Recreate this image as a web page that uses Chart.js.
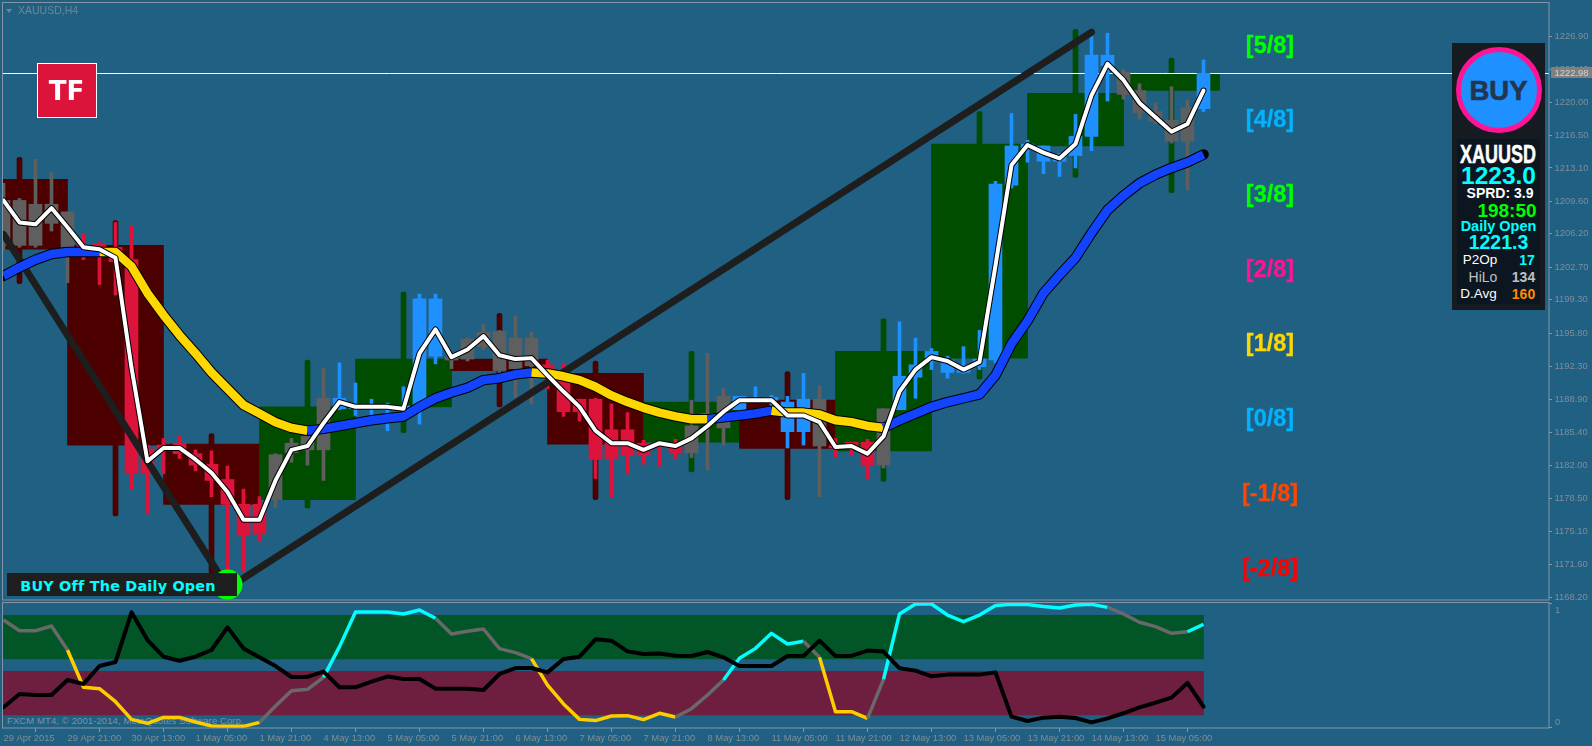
<!DOCTYPE html>
<html>
<head>
<meta charset="utf-8">
<title>XAUUSD,H4</title>
<script src="https://cdn.jsdelivr.net/npm/chart.js@4"></script>
<style>
html,body{margin:0;padding:0;overflow:hidden;width:1592px;height:746px;background:#206082;font-family:"Liberation Sans",Arial,sans-serif}
canvas{position:absolute;left:0}
#main{top:0;z-index:2}
#osc{top:601px;z-index:2}
.t{position:absolute;white-space:nowrap;transform:translate(-50%,-50%);line-height:1;z-index:5}
.lvl{font-weight:bold;font-size:23.5px;-webkit-text-stroke:.3px currentColor}
.b{font-weight:bold}
.abs{position:absolute;z-index:4}
.axis{font-size:9.4px}
</style>
</head>
<body>
<canvas id="main" width="1592" height="601"></canvas>
<canvas id="osc" width="1592" height="145"></canvas>

<div class="abs" style="left:6px;top:9px;width:0;height:0;border-left:3.5px solid transparent;border-right:3.5px solid transparent;border-top:4px solid #6f8799"></div>
<div class="t" style="left:18px;top:5px;transform:none;color:#6f8799;font-size:10.5px">XAUUSD,H4</div>
<div style="position:absolute;left:7px;top:715px;z-index:1;color:#7a93a8;font-size:9.5px;letter-spacing:.1px;white-space:nowrap">FXCM MT4, &copy; 2001-2014, MetaQuotes Software Corp.</div>

<div class="abs" style="left:37px;top:63px;width:58px;height:53px;background:#dc143c;border:1px solid #fff"></div>
<div class="t" style="left:66.5px;top:91px;color:#fff;font-family:'DejaVu Sans';font-weight:bold;font-size:26px">TF</div>

<div class="t lvl" style="left:1270px;top:46px;color:#00ff00">[5/8]</div>
<div class="t lvl" style="left:1270px;top:120px;color:#00b2ff">[4/8]</div>
<div class="t lvl" style="left:1270px;top:195px;color:#00ff00">[3/8]</div>
<div class="t lvl" style="left:1270px;top:270px;color:#ff1493">[2/8]</div>
<div class="t lvl" style="left:1270px;top:344px;color:#ffd700">[1/8]</div>
<div class="t lvl" style="left:1270px;top:419px;color:#00b2ff">[0/8]</div>
<div class="t lvl" style="left:1270px;top:494px;color:#ff4500">[-1/8]</div>
<div class="t lvl" style="left:1270px;top:569px;color:#ff0000">[-2/8]</div>

<div class="abs" style="left:7px;top:573px;width:230px;height:23px;background:#1e1e1e"></div>
<div class="t" style="left:118px;top:585.5px;color:#00ffff;font-family:'DejaVu Sans';font-weight:bold;font-size:14.4px;letter-spacing:.2px">BUY Off The Daily Open</div>

<div class="abs" style="left:1551px;top:67px;width:41px;height:11px;background:#808080"></div>
<div class="t axis" style="left:1571.5px;top:72.5px;color:#d0d4d8">1222.98</div>

<div class="abs" style="left:1452px;top:43px;width:93px;height:267px;background:#151b20"></div>
<div class="abs" style="left:1457px;top:139px;width:83px;height:165px;background:#0b1620"></div>
<div class="abs" style="left:1456px;top:47px;width:76px;height:76px;border-radius:50%;background:#1e90ff;border:5px solid #ff1493"></div>
<div class="t b" style="left:1498.5px;top:91px;color:#24354f;font-size:27.5px;-webkit-text-stroke:.6px #24354f">BUY</div>
<div class="t b" style="left:1498px;top:154px;color:#fff;font-size:26px;transform:translate(-50%,-50%) scaleX(.69);-webkit-text-stroke:.5px #fff">XAUUSD</div>
<div class="t b" style="left:1498.5px;top:176px;color:#00ffff;font-size:24.5px">1223.0</div>
<div class="t b" style="left:1500px;top:193px;color:#fff;font-size:14px">SPRD: 3.9</div>
<div class="t b" style="left:1507px;top:209.5px;color:#00ff00;font-size:19px">198:50</div>
<div class="t b" style="left:1498.5px;top:225.5px;color:#00ffff;font-size:14.5px">Daily Open</div>
<div class="t b" style="left:1498.5px;top:242.5px;color:#00ffff;font-size:19.5px">1221.3</div>
<div class="t" style="left:1480px;top:260px;color:#fff;font-size:13.5px">P2Op</div>
<div class="t b" style="left:1527px;top:260px;color:#00ffff;font-size:14px">17</div>
<div class="t" style="left:1483px;top:277px;color:#c0c0c0;font-size:14px">HiLo</div>
<div class="t b" style="left:1523.5px;top:277px;color:#c0c0c0;font-size:14px">134</div>
<div class="t" style="left:1478.5px;top:294px;color:#fff;font-size:13.5px">D.Avg</div>
<div class="t b" style="left:1523.5px;top:294px;color:#ff8c00;font-size:14px">160</div>

<div class="t axis" style="left:1555px;top:610px;transform:translate(0,-50%);color:#808d99">1</div>
<div class="t axis" style="left:1555px;top:722px;transform:translate(0,-50%);color:#808d99">0</div>

<script>
/* ---------- price window ---------- */
const priceTicks = [1226.90,1223.40,1220.00,1216.50,1213.10,1209.60,1206.20,1202.70,1199.30,1195.80,1192.30,1188.90,1185.40,1182.00,1178.50,1175.10,1171.60,1168.20];
const bidPrice = 1222.98;

const candleHigh = [
1211.5,1209.9,1214.0,1212.6,1208.5,1206.2,1205.3,1207.4,1207.1,1184.1,
1184.8,1185.1,1183.6,1183.5,1181.9,1179.5,1178.7,1183.2,1184.8,1185.0,
1192.1,1192.7,1190.6,1188.9,1188.5,1190.2,1199.9,1199.9,1193.7,1195.3,
1196.7,1196.1,1197.6,1195.9,1193.0,1192.6,1188.9,1189.0,1188.4,1187.5,
1184.6,1184.3,1184.7,1188.8,1193.7,1190.0,1189.2,1190.2,1189.3,1189.2,
1191.6,1190.3,1184.8,1184.4,1184.7,1187.9,1197.0,1195.3,1194.2,1193.4,
1194.4,1196.1,1211.7,1218.8,1216.0,1215.4,1214.6,1218.7,1227.0,1227.2,
1223.4,1221.9,1219.9,1221.6,1220.2,1224.4];
const candleLow = [
1204.5,1204.8,1204.8,1206.5,1201.1,1203.5,1200.9,1199.8,1179.5,1176.9,
1181.1,1182.7,1181.4,1178.7,1170.7,1170.9,1174.0,1177.6,1182.3,1182.0,
1180.4,1187.8,1187.2,1187.1,1185.6,1187.1,1186.3,1192.6,1192.1,1192.9,
1194.1,1191.5,1189.1,1188.4,1190.0,1187.1,1186.6,1180.6,1178.7,1181.1,
1182.1,1181.9,1182.7,1182.8,1181.5,1184.1,1187.7,1188.7,1187.8,1183.8,
1184.1,1178.7,1182.8,1183.0,1180.6,1181.7,1187.8,1189.0,1192.0,1191.1,
1191.6,1192.0,1192.7,1211.0,1213.7,1212.5,1212.2,1213.1,1214.9,1220.1,
1220.3,1218.2,1217.7,1215.7,1210.8,1219.0];
const candleBodyTop = [
1209.7,1209.7,1209.3,1209.3,1208.5,1205.0,1205.2,1204.8,1203.5,1183.7,
1184.1,1184.3,1183.2,1182.1,1180.5,1177.9,1177.9,1183.1,1184.3,1185.0,
1189.0,1189.0,1188.3,1188.0,1188.0,1188.2,1199.4,1199.4,1193.3,1195.2,
1195.9,1196.0,1195.3,1195.3,1192.5,1190.9,1188.9,1188.9,1185.7,1185.7,
1184.3,1184.3,1184.3,1186.1,1187.4,1189.2,1189.2,1188.9,1189.1,1188.6,
1188.9,1188.9,1184.0,1184.4,1184.4,1187.9,1191.3,1192.5,1193.9,1193.0,
1192.2,1193.1,1211.4,1215.4,1215.6,1215.4,1214.3,1216.4,1224.9,1224.9,
1223.1,1221.2,1219.0,1218.1,1219.4,1223.0];
const candleBodyBottom = [
1205.0,1205.0,1205.0,1207.3,1204.8,1204.5,1204.3,1203.3,1181.2,1181.2,
1183.5,1183.2,1182.0,1180.4,1177.9,1174.7,1174.8,1178.4,1183.3,1183.6,
1183.6,1187.9,1187.9,1187.9,1187.8,1187.7,1188.1,1193.4,1193.0,1193.1,
1194.4,1191.9,1192.1,1192.4,1191.8,1187.6,1187.6,1182.6,1182.7,1183.0,
1183.0,1184.2,1183.3,1183.3,1187.2,1185.9,1187.8,1188.7,1188.8,1185.5,
1185.5,1184.0,1183.8,1183.8,1182.0,1182.0,1187.8,1191.2,1192.9,1191.7,
1191.7,1192.3,1193.0,1211.3,1215.2,1213.8,1213.8,1214.4,1216.4,1223.8,
1220.8,1218.9,1218.0,1215.9,1215.9,1219.3];
const candleKind = "gggggrrrrrrrrrrrrggggbbbbbbbggggggrrrrrrrrrgggbbbbbgrrrgbbbbbbbbbbbbbbgggggb".split("");

const fastLine = [
1209.7,1207.4,1207.2,1208.9,1206.9,1204.8,1204.6,1203.7,1192.2,1182.4,
1183.8,1183.8,1182.6,1181.2,1179.2,1176.3,1176.3,1180.4,1183.6,1184.0,
1186.4,1188.6,1188.1,1188.1,1188.1,1187.9,1193.7,1196.2,1193.3,1194.1,
1195.5,1193.5,1193.1,1193.2,1191.4,1189.7,1188.1,1185.6,1184.3,1184.3,
1183.6,1184.3,1184.0,1184.8,1186.1,1187.6,1188.8,1188.8,1188.8,1187.2,
1187.2,1186.5,1183.9,1184.0,1183.2,1185.0,1189.7,1192.0,1193.3,1192.9,
1192.0,1192.8,1202.9,1213.4,1215.5,1214.7,1214.1,1215.6,1220.7,1224.0,
1222.3,1219.9,1218.4,1216.9,1217.7,1221.2];
const slowLine = [
1201.8,1202.7,1203.5,1204.1,1204.3,1204.3,1204.3,1204.3,1202.8,1200.0,
1197.7,1195.6,1193.7,1191.7,1190.0,1188.3,1187.4,1186.5,1185.9,1185.6,
1185.8,1186.1,1186.4,1186.7,1186.9,1187.1,1188.1,1189.0,1189.6,1190.1,
1190.9,1191.1,1191.5,1191.7,1191.6,1191.3,1190.9,1190.2,1189.3,1188.6,
1188.0,1187.5,1187.1,1186.8,1186.8,1187.0,1187.2,1187.4,1187.7,1187.5,
1187.5,1187.3,1186.7,1186.5,1186.1,1185.9,1186.7,1187.4,1188.1,1188.6,
1189.0,1189.4,1191.4,1194.7,1197.1,1200.0,1201.9,1203.7,1206.3,1208.7,
1210.2,1211.5,1212.4,1213.1,1213.7,1214.5];
const slowKind = "bbbbbbyyyyyyyyyyyyybbbbbbbbbbbbbbyyyyyyyyyyybbbbyyyyyyybbbbbbbbbbbbbbbbbbbb".split("");

/* daily candles behind the H4 bars */
const dayBar    = [1,7,13,19,25,31,37,43,49,55,61,67,73];
const dayTop    = [1211.9,1205.0,1184.2,1188.1,1193.1,1193.1,1191.6,1188.6,1188.8,1193.9,1215.6,1220.9,1222.9];
const dayBottom = [1204.6,1184.1,1177.9,1178.4,1188.1,1191.9,1184.2,1184.4,1183.75,1183.5,1193.2,1215.4,1221.2];
const dayHigh   = [1214.2,1207.6,1185.3,1193.0,1200.1,1197.9,1192.9,1193.9,1191.8,1197.3,1219.0,1227.6,1224.6];
const dayLow    = [1201.0,1176.7,1170.7,1177.5,1185.4,1188.1,1178.4,1181.3,1178.4,1180.3,1191.0,1212.1,1210.5];
const dayKind   = "rrrggrrgrgggg".split("");

/* hand drawn trend lines and the signal dot: [bar, price] */
const trendDown = [[0,1206.15],[14,1169.2]];
const trendUp   = [[14,1169.1],[68,1227.3]];
const signalDot = [14,1169.5];

/* ---------- oscillator window ---------- */
const oscColored = [
.863,.777,.777,.815,.622,.322,.311,.206,.064,.032,
.080,.080,.043,.011,.008,.008,.040,.172,.295,.306,
.402,.649,.928,.928,.928,.912,.944,.877,.751,.772,
.791,.633,.601,.552,.340,.188,.064,.054,.091,.094,
.062,.113,.083,.150,.260,.381,.555,.635,.756,.670,
.692,.563,.126,.126,.072,.386,.912,.992,.992,.903,
.850,.903,.979,.989,.987,.971,.960,.984,.989,.965,
.912,.845,.810,.756,.769,.828];
const oscBlack = [
.161,.268,.260,.260,.381,.349,.493,.525,.925,.702,
.568,.536,.568,.622,.804,.635,.563,.493,.405,.405,
.448,.322,.322,.367,.408,.389,.389,.311,.311,.311,
.300,.429,.477,.477,.442,.550,.568,.708,.697,.611,
.590,.593,.576,.574,.606,.563,.493,.493,.493,.574,
.574,.697,.574,.574,.617,.609,.475,.456,.410,.424,
.424,.424,.442,.086,.051,.078,.086,.075,.040,.072,
.113,.161,.198,.239,.357,.166];
const oscKind = "ggggyyyyyyyyyyyyggggcccccccggggggyyyyyyyyygggcccccgyyygccccccccccccccgggggc".split("");
const oscBandHigh = [.55,.90];
const oscBandLow  = [.10,.45];
const oscBandBar  = 37.5;

const xTickBars = [0,4,8,12,16,20,24,28,32,36,40,44,48,52,56,60,64,68,72];
const xTickLabels = ["29 Apr 2015","29 Apr 21:00","30 Apr 13:00","1 May 05:00","1 May 21:00","4 May 13:00","5 May 05:00","5 May 21:00","6 May 13:00","7 May 05:00","7 May 21:00","8 May 13:00","11 May 05:00","11 May 21:00","12 May 13:00","13 May 05:00","13 May 21:00","14 May 13:00","15 May 05:00"];

/* ---------- styling ---------- */
const AXIS = "#8494a3", TICKTXT = "#808d99";
const FONT = {family:"'Liberation Sans'",size:9.4};
const CANDLE = {r:"#dc143c",b:"#1e90ff",g:"#5f5f5f"};
const DAY = {r:"#4d0000",g:"#004d00"};
const SLOW = {b:"#1243ff",y:"#ffd700"};
const OSC = {g:"#696969",y:"#ffcc00",c:"#00ffff"};

const X_MIN = -0.03125, X_MAX = 96.59375;

const frame = {
  id:"frame",
  afterDraw(c){
    const a=c.chartArea, g=c.ctx;
    g.save(); g.strokeStyle=AXIS; g.lineWidth=1;
    g.strokeRect(a.left-.5,a.top-.5,a.right-a.left+.5,a.bottom-a.top+.5);
    g.restore();
  }
};
const idx = arr => arr.map((y,i)=>({x:i,y}));
const pairs = arr => arr.map(p=>({x:p[0],y:p[1]}));
const floatBar = (xs,a,b) => xs.map((x,i)=>({x,y:[a[i],b[i]]}));
const bars = candleHigh.map((_,i)=>i);

const lineBase = {type:"line",pointRadius:0,tension:0,fill:false,borderJoinStyle:"round",borderCapStyle:"round"};

new Chart(document.getElementById("main"),{
  type:"bar",
  plugins:[frame],
  data:{datasets:[
    {label:"Daily body",order:20,data:floatBar(dayBar,dayBottom,dayTop),barThickness:96,grouped:false,
      backgroundColor:dayKind.map(k=>DAY[k])},
    {label:"Daily range",order:19,data:floatBar(dayBar,dayLow,dayHigh),barThickness:5,grouped:false,borderRadius:2,borderSkipped:false,
      backgroundColor:dayKind.map(k=>DAY[k])},
    {...lineBase,label:"Bid",order:18,data:[{x:X_MIN,y:bidPrice},{x:X_MAX,y:bidPrice}],borderColor:"#ffffff",borderWidth:1},
    {label:"H4 range",order:17,data:floatBar(bars,candleLow,candleHigh),barThickness:3,grouped:false,
      backgroundColor:candleKind.map(k=>CANDLE[k])},
    {label:"H4 body",order:16,data:floatBar(bars,candleBodyBottom,candleBodyTop),barThickness:13,grouped:false,
      backgroundColor:candleKind.map(k=>CANDLE[k])},
    {...lineBase,label:"Trend down",order:15,data:pairs(trendDown),borderColor:"#1e1e1e",borderWidth:7},
    {...lineBase,label:"Trend up",order:14,data:pairs(trendUp),borderColor:"#1e1e1e",borderWidth:7},
    {...lineBase,label:"Slow outline",order:13,data:idx(slowLine),borderColor:"#000000",borderWidth:10.5},
    {...lineBase,label:"Slow",order:12,data:idx(slowLine),borderWidth:8.5,borderCapStyle:"butt",
      borderColor:SLOW.b,segment:{borderColor:c=>SLOW[slowKind[c.p0DataIndex]]}},
    {...lineBase,label:"Fast outline",order:11,data:idx(fastLine),borderColor:"#000000",borderWidth:6},
    {...lineBase,label:"Fast",order:10,data:idx(fastLine),borderColor:"#ffffff",borderWidth:4},
    {...lineBase,label:"Signal",order:9,showLine:false,data:[{x:signalDot[0],y:signalDot[1]}],pointRadius:15,pointBackgroundColor:"#00ff00",pointBorderWidth:0,clip:false}
  ]},
  options:{
    responsive:false,animation:false,events:[],
    layout:{autoPadding:false,padding:{left:3,top:3,right:0,bottom:1}},
    plugins:{legend:{display:false},tooltip:{enabled:false}},
    scales:{
      x:{type:"linear",min:X_MIN,max:X_MAX,offset:false,display:false,grid:{display:false}},
      y:{type:"linear",position:"right",min:1167.89,max:1230.36,beginAtZero:false,
        afterFit(s){s.width=43;s.paddingTop=0;s.paddingBottom=0;},
        afterBuildTicks(s){s.ticks=priceTicks.map(value=>({value}));},
        border:{display:false},
        grid:{drawOnChartArea:false,drawTicks:true,tickLength:3,tickColor:AXIS},
        ticks:{autoSkip:false,color:TICKTXT,font:FONT,padding:2.5,callback:v=>v.toFixed(2)}
      }
    }
  }
});

new Chart(document.getElementById("osc"),{
  type:"bar",
  plugins:[frame],
  data:{datasets:[
    {label:"Upper band",order:5,data:[{x:oscBandBar,y:oscBandHigh}],barThickness:1200,grouped:false,backgroundColor:"#025526"},
    {label:"Lower band",order:4,data:[{x:oscBandBar,y:oscBandLow}],barThickness:1200,grouped:false,backgroundColor:"#6e1f3f"},
    {...lineBase,label:"Oscillator",order:3,data:idx(oscColored),borderWidth:3.5,borderCapStyle:"butt",
      borderColor:OSC.g,segment:{borderColor:c=>OSC[oscKind[c.p0DataIndex]]}},
    {...lineBase,label:"Signal",order:2,data:idx(oscBlack),borderColor:"#000000",borderWidth:4}
  ]},
  options:{
    responsive:false,animation:false,events:[],
    layout:{autoPadding:false,padding:{left:3,top:2,right:0,bottom:0}},
    plugins:{legend:{display:false},tooltip:{enabled:false}},
    scales:{
      x:{type:"linear",min:X_MIN,max:X_MAX,offset:false,
        afterFit(s){s.height=18;},
        afterBuildTicks(s){s.ticks=xTickBars.map(value=>({value}));},
        border:{display:false},
        grid:{drawOnChartArea:false,drawTicks:true,tickLength:4,tickColor:AXIS},
        ticks:{autoSkip:false,maxRotation:0,align:"start",color:TICKTXT,font:FONT,padding:1,
          callback:v=>xTickLabels[xTickBars.indexOf(v)]}
      },
      y:{type:"linear",position:"right",min:-0.0054,max:1,beginAtZero:false,
        afterFit(s){s.width=43;},
        afterBuildTicks(s){s.ticks=[{value:0},{value:1}];},
        border:{display:false},
        grid:{drawOnChartArea:false,drawTicks:true,tickLength:3,tickColor:AXIS},
        ticks:{display:false}
      }
    }
  }
});
</script>
</body>
</html>
